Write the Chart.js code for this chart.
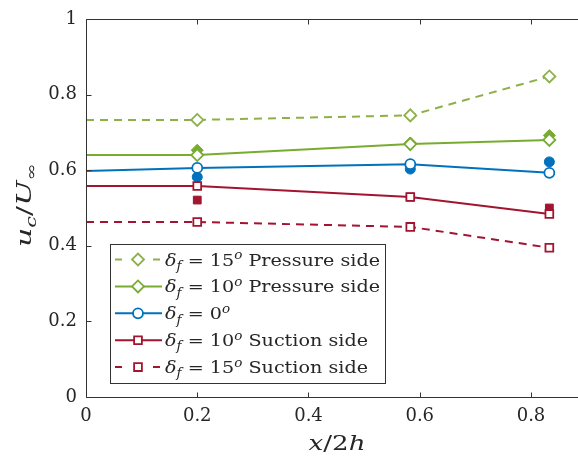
<!DOCTYPE html>
<html>
<head>
<meta charset="utf-8">
<script src="https://cdn.jsdelivr.net/npm/chart.js@4.4.0/dist/chart.umd.min.js"></script>
<style>
  html, body { margin: 0; padding: 0; background: #fff; overflow: hidden; }
</style>
</head>
<body>
<canvas id="chart" width="578" height="468"></canvas>
<script>
// x/2h positions of the measurements
const xPos = [0, 0.2, 0.583, 0.833];
// u_c/U_inf, lines with hollow markers
const press15 = [0.733, 0.733, 0.745, 0.848];
const press10 = [0.640, 0.640, 0.669, 0.680];
const zero = [0.598, 0.606, 0.616, 0.593];
const suct10 = [0.558, 0.558, 0.529, 0.484];
const suct15 = [0.463, 0.463, 0.450, 0.395];
// filled markers, no line, not in legend
const xFilled = [0.2, 0.583, 0.833];
const press10Filled = [0.653, 0.672, 0.692];
const zeroFilled = [0.582, 0.603, 0.622];
const suct10Filled = [0.521, 0.529, 0.500];

const xTicks = [0, 0.2, 0.4, 0.6, 0.8];
const yTicks = [0, 0.2, 0.4, 0.6, 0.8, 1];

const legendAngles = ['15', '10', '0', '10', '15'];
const legendSides = ['Pressure side', 'Pressure side', '', 'Suction side', 'Suction side'];

const green = '#77AC30', greenDash = '#8DB04A', blue = '#0072BD', red = '#A2142F';
const axisColor = '#333333';
const serif = '"DejaVu Serif", "Liberation Serif", serif';

function pts(xs, ys) {
  return xs.map((x, i) => ({ x: x, y: ys[i] }));
}

function lineSet(label, ys, color, style, dashed, r) {
  return {
    label: label,
    data: pts(xPos, ys),
    showLine: true,
    borderColor: color,
    borderWidth: 2,
    borderDash: dashed ? [8, 6] : [],
    pointStyle: style,
    pointRadius: ys.map((v, i) => i === 0 ? 0 : r),
    pointHoverRadius: 0,
    pointBorderColor: color,
    pointBackgroundColor: '#ffffff',
    pointBorderWidth: 1.8,
    tension: 0
  };
}

function dotSet(label, ys, color, style, r) {
  return {
    label: label,
    data: pts(xFilled, ys),
    showLine: false,
    pointStyle: style,
    pointRadius: r,
    pointBorderColor: color,
    pointBackgroundColor: color,
    pointBorderWidth: 1
  };
}

const datasets = [
  lineSet('15 pressure', press15, greenDash, 'rectRot', true, 6),
  lineSet('10 pressure', press10, green, 'rectRot', false, 6),
  lineSet('0', zero, blue, 'circle', false, 5),
  lineSet('10 suction', suct10, red, 'rect', false, 5.5),
  lineSet('15 suction', suct15, red, 'rect', true, 5.5),
  dotSet('10 pressure filled', press10Filled, green, 'rectRot', 6),
  dotSet('0 filled', zeroFilled, blue, 'circle', 5),
  dotSet('10 suction filled', suct10Filled, red, 'rect', 5.5)
];

function fontOf(p, size) {
  return (p.i ? 'italic ' : '') + (p.s ? Math.round(size * 0.7) : size) + 'px ' + serif;
}

function richWidth(ctx, pieces, size) {
  let w = 0;
  pieces.forEach(p => { ctx.font = fontOf(p, size); w += ctx.measureText(p.t).width; });
  return w;
}

// draws text pieces with italics / sub / superscripts, stretched horizontally by sx
function drawRich(ctx, pieces, x, y, size, align, sx) {
  const w = richWidth(ctx, pieces, size);
  ctx.save();
  ctx.translate(x, y);
  ctx.scale(sx, 1);
  let cx = align === 'center' ? -w / 2 : 0;
  ctx.textBaseline = 'alphabetic';
  ctx.textAlign = 'left';
  pieces.forEach(p => {
    ctx.font = fontOf(p, size);
    let dy = 0;
    if (p.s === 'sub') dy = size * 0.25;
    if (p.s === 'sup') dy = -size * 0.38;
    ctx.fillText(p.t, cx, dy);
    cx += ctx.measureText(p.t).width;
  });
  ctx.restore();
}

// legend marker, same shapes as the chart's point styles
function drawMarker(ctx, ds, x, y) {
  const r = typeof ds.pointRadius === 'number' ? ds.pointRadius : ds.pointRadius[1];
  ctx.beginPath();
  if (ds.pointStyle === 'circle') {
    ctx.arc(x, y, r, 0, Math.PI * 2);
  } else if (ds.pointStyle === 'rectRot') {
    ctx.moveTo(x - r, y); ctx.lineTo(x, y - r); ctx.lineTo(x + r, y); ctx.lineTo(x, y + r); ctx.closePath();
  } else {
    const h = r * Math.SQRT1_2;
    ctx.rect(x - h, y - h, 2 * h, 2 * h);
  }
  ctx.fill();
  ctx.stroke();
}

const framePlugin = {
  id: 'frame',
  afterDatasetsDraw(chart) {
    const ctx = chart.ctx;
    const a = chart.chartArea;
    const xs = chart.scales.x, ys = chart.scales.y;
    const L = Math.round(a.left) + 0.5, T = Math.round(a.top) + 0.5, B = Math.round(a.bottom) + 0.5;
    ctx.save();
    ctx.strokeStyle = axisColor;
    ctx.lineWidth = 1;
    ctx.beginPath();
    // the plot box continues past the right edge of the picture
    ctx.moveTo(a.right, T); ctx.lineTo(L, T); ctx.lineTo(L, B); ctx.lineTo(a.right, B);
    xTicks.forEach(v => {
      const px = Math.round(xs.getPixelForValue(v)) + 0.5;
      ctx.moveTo(px, B); ctx.lineTo(px, B - 5);
      ctx.moveTo(px, T); ctx.lineTo(px, T + 5);
    });
    yTicks.forEach(v => {
      const py = Math.round(ys.getPixelForValue(v)) + 0.5;
      ctx.moveTo(L, py); ctx.lineTo(L + 5, py);
    });
    ctx.stroke();
    ctx.restore();
  },
  afterDraw(chart) {
    const ctx = chart.ctx;
    ctx.save();
    ctx.fillStyle = '#262626';
    // x axis title
    const xt = [{ t: 'x', i: 1 }, { t: '/2' }, { t: 'h', i: 1 }];
    drawRich(ctx, xt, 337, 450, 21, 'center', 57 / richWidth(ctx, xt, 21));
    // y axis title
    const yt = [{ t: 'u', i: 1 }, { t: 'c', i: 1, s: 'sub' }, { t: '/' }, { t: 'U', i: 1 }, { t: '∞', s: 'sub' }];
    ctx.save();
    ctx.translate(31, 205);
    ctx.rotate(-Math.PI / 2);
    drawRich(ctx, yt, 0, 0, 20, 'center', 84 / richWidth(ctx, yt, 20));
    ctx.restore();

    // legend
    const box = { x: 110.5, y: 244.5, w: 275, h: 139 };
    ctx.fillStyle = '#ffffff';
    ctx.fillRect(box.x, box.y, box.w, box.h);
    ctx.strokeStyle = axisColor;
    ctx.lineWidth = 1;
    ctx.strokeRect(box.x, box.y, box.w, box.h);
    const rowY0 = 259.5, rowDy = 26.9, size = 17;
    let sx = null;
    for (let k = 0; k < 5; k++) {
      const ds = chart.data.datasets[k];
      const cy = rowY0 + k * rowDy;
      ctx.save();
      ctx.strokeStyle = ds.borderColor;
      ctx.lineWidth = 2;
      ctx.beginPath();
      if (ds.borderDash.length) {
        ctx.moveTo(115, cy); ctx.lineTo(122, cy);
        ctx.moveTo(153, cy); ctx.lineTo(160, cy);
      } else {
        ctx.moveTo(115, cy); ctx.lineTo(162, cy);
      }
      ctx.stroke();
      ctx.fillStyle = '#ffffff';
      ctx.lineWidth = ds.pointBorderWidth;
      drawMarker(ctx, ds, 138, cy);
      ctx.restore();

      const pieces = [
        { t: 'δ', i: 1 }, { t: 'f', i: 1, s: 'sub' }, { t: ' = ' + legendAngles[k] }, { t: 'o', i: 1, s: 'sup' }
      ];
      if (legendSides[k]) pieces.push({ t: ' ' + legendSides[k] });
      // fit the first row to the reference width, same stretch for all rows
      if (sx === null) sx = 215 / richWidth(ctx, pieces, size);
      ctx.fillStyle = '#262626';
      drawRich(ctx, pieces, 165, cy + 6, size, 'left', sx);
    }
    ctx.restore();
  }
};

const tickFont = { family: serif, size: 18 };

new Chart(document.getElementById('chart'), {
  type: 'scatter',
  data: { datasets: datasets },
  plugins: [framePlugin],
  options: {
    responsive: false,
    animation: false,
    layout: { autoPadding: false, padding: { top: 19, right: 0, left: 0, bottom: 0 } },
    plugins: { legend: { display: false }, tooltip: { enabled: false } },
    scales: {
      x: {
        // the original axis runs to 0.9; the picture is cut just before that
        type: 'linear', min: 0, max: 0.8845,
        afterBuildTicks: s => { s.ticks = xTicks.map(v => ({ value: v })); },
        afterFit: s => { s.height = 71; s.paddingLeft = 0; s.paddingRight = 0; },
        grid: { display: false, drawTicks: false },
        border: { display: false },
        ticks: { font: tickFont, color: '#262626', padding: 9, maxRotation: 0, autoSkip: false }
      },
      y: {
        type: 'linear', min: 0, max: 1,
        afterBuildTicks: s => { s.ticks = yTicks.map(v => ({ value: v })); },
        afterFit: s => { s.width = 86; s.paddingTop = 0; s.paddingBottom = 0; },
        grid: { display: false, drawTicks: false },
        border: { display: false },
        ticks: { font: tickFont, color: '#262626', padding: 9, callback: v => String(v) }
      }
    }
  }
});
</script>
</body>
</html>
